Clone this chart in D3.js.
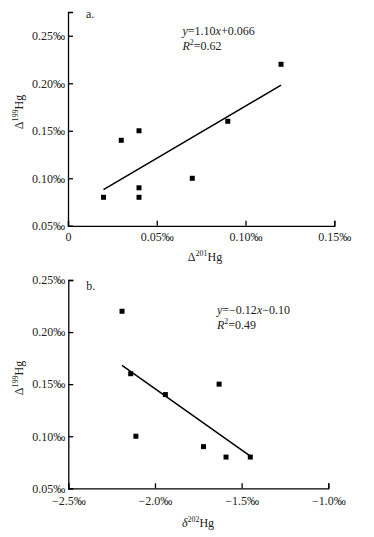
<!DOCTYPE html>
<html><head><meta charset="utf-8">
<script src="https://cdn.jsdelivr.net/npm/d3@7"></script>
<style>
html,body{margin:0;padding:0;background:#fff;}
svg{display:block;font-family:"Liberation Serif","Times New Roman",serif;}
.axis path,.axis line{stroke:#000;stroke-width:1.3;}
.axis text{font-family:"Liberation Serif","Times New Roman",serif;font-size:12px;fill:#222;}
</style></head>
<body>
<svg id="c" width="374" height="537"></svg>
<script>
// Panel a: Δ201Hg vs Δ199Hg
const aX = [0.02, 0.03, 0.04, 0.04, 0.04, 0.07, 0.09, 0.12];
const aY = [0.08, 0.14, 0.15, 0.09, 0.08, 0.10, 0.16, 0.22];
const aFitX = [0.02, 0.12];
const aFitY = [0.088, 0.198];
const aXTicks = [0, 0.05, 0.10, 0.15];
const aXTickLabels = ["0", "0.05‰", "0.10‰", "0.15‰"];
const aYTicks = [0.05, 0.10, 0.15, 0.20, 0.25];
const aYTickLabels = ["0.05‰", "0.10‰", "0.15‰", "0.20‰", "0.25‰"];

// Panel b: δ202Hg vs Δ199Hg
const bX = [-2.19, -2.14, -1.94, -2.11, -1.63, -1.72, -1.59, -1.45];
const bY = [0.22, 0.16, 0.14, 0.10, 0.15, 0.09, 0.08, 0.08];
const bFitX = [-2.19, -1.45];
const bFitY = [0.168, 0.081];
const bXTicks = [-2.5, -2.0, -1.5, -1.0];
const bXTickLabels = ["−2.5‰", "−2.0‰", "−1.5‰", "−1.0‰"];
const bYTicks = [0.05, 0.10, 0.15, 0.20, 0.25];
const bYTickLabels = ["0.05‰", "0.10‰", "0.15‰", "0.20‰", "0.25‰"];

const svg = d3.select("#c");

function panel(cfg){
  const g = svg.append("g");
  const x = d3.scaleLinear().domain(cfg.xDomain).range(cfg.xRange);
  const y = d3.scaleLinear().domain(cfg.yDomain).range(cfg.yRange);

  const xa = d3.axisBottom(x).tickValues(cfg.xTicks)
    .tickFormat((d,i)=>cfg.xTickLabels[i]).tickSizeInner(-5).tickSizeOuter(-5).tickPadding(cfg.xPad);
  g.append("g").attr("class","axis").attr("transform",`translate(0,${cfg.yRange[0]})`).call(xa);

  const ya = d3.axisLeft(y).tickValues(cfg.yTicks)
    .tickFormat((d,i)=>cfg.yTickLabels[i]).tickSizeInner(-5).tickSizeOuter(-5).tickPadding(3);
  g.append("g").attr("class","axis").attr("transform",`translate(${cfg.xRange[0]},0)`).call(ya);
  g.selectAll(".axis path").attr("fill","none");

  // fit line
  g.append("line")
    .attr("x1", x(cfg.fitX[0])).attr("y1", y(cfg.fitY[0]))
    .attr("x2", x(cfg.fitX[1])).attr("y2", y(cfg.fitY[1]))
    .attr("stroke","#000").attr("stroke-width",1.5);

  // points
  const s = 5;
  g.selectAll("rect.pt").data(cfg.px.map((v,i)=>[v,cfg.py[i]])).enter().append("rect")
    .attr("class","pt")
    .attr("x", d=>x(d[0])-s/2).attr("y", d=>y(d[1])-s/2)
    .attr("width",s).attr("height",s).attr("fill","#000");

  // panel label
  g.append("text").attr("x", cfg.xRange[0]+18).attr("y", cfg.labelY)
    .attr("font-size",12).attr("fill","#222").text(cfg.label);

  // equation
  const eq = g.append("text").attr("x", cfg.eqX).attr("y", cfg.eqY).attr("font-size",12).attr("fill","#222");
  eq.append("tspan").attr("font-style","italic").text("y");
  eq.append("tspan").text(cfg.eqA);
  eq.append("tspan").attr("font-style","italic").text("x");
  eq.append("tspan").text(cfg.eqB);
  const r2 = g.append("text").attr("x", cfg.eqX).attr("y", cfg.eqY+15).attr("font-size",12).attr("fill","#222");
  r2.append("tspan").attr("font-style","italic").text("R");
  r2.append("tspan").attr("font-size",8).attr("dy",-5).text("2");
  r2.append("tspan").attr("dy",5).text(cfg.r2);

  // x title
  const xt = g.append("text").attr("x", cfg.xTitleX).attr("y", cfg.xTitleY)
    .attr("text-anchor","middle").attr("font-size",12).attr("fill","#222");
  xt.append("tspan").attr("font-style", cfg.xTitleItalic ? "italic" : "normal").text(cfg.xTitleSym);
  xt.append("tspan").attr("font-size",8).attr("dy",-5).text(cfg.xTitleSup);
  xt.append("tspan").attr("dy",5).text("Hg");

  // y title
  const yt = g.append("text").attr("transform",`translate(${cfg.yTitleX},${cfg.yTitleY}) rotate(-90)`)
    .attr("text-anchor","middle").attr("font-size",12).attr("fill","#222");
  yt.append("tspan").text("Δ");
  yt.append("tspan").attr("font-size",8).attr("dy",-5).text("199");
  yt.append("tspan").attr("dy",5).text("Hg");
}

panel({
  xDomain:[0,0.15], xRange:[68,334.3], yDomain:[0.05,0.275], yRange:[225.8,12],
  xTicks:aXTicks, xTickLabels:aXTickLabels, yTicks:aYTicks, yTickLabels:aYTickLabels, xPad:7,
  px:aX, py:aY, fitX:aFitX, fitY:aFitY,
  label:"a.", labelY:18,
  eqX:182.5, eqY:35, eqA:"=1.10", eqB:"+0.066", r2:"=0.62",
  xTitleX:205, xTitleY:261, xTitleSym:"Δ", xTitleSup:"201", xTitleItalic:false,
  yTitleX:23, yTitleY:112
});

panel({
  xDomain:[-2.5,-1.0], xRange:[68.3,328.3], yDomain:[0.05,0.25], yRange:[488.3,280],
  xTicks:bXTicks, xTickLabels:bXTickLabels, yTicks:bYTicks, yTickLabels:bYTickLabels, xPad:8.5,
  px:bX, py:bY, fitX:bFitX, fitY:bFitY,
  label:"b.", labelY:290,
  eqX:217, eqY:314, eqA:"=−0.12", eqB:"−0.10", r2:"=0.49",
  xTitleX:198, xTitleY:527, xTitleSym:"δ", xTitleSup:"202", xTitleItalic:true,
  yTitleX:23, yTitleY:378
});
</script>
</body></html>
